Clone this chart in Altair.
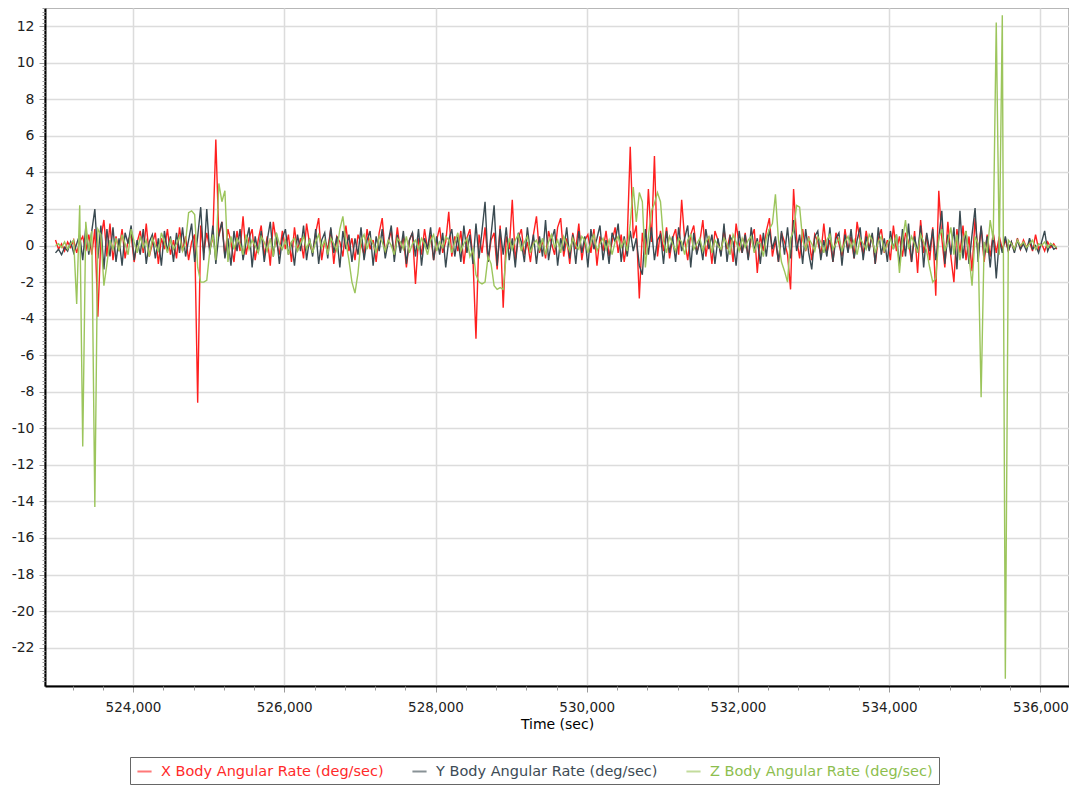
import altair as alt
import pandas as pd

START = 522975
STEP = 40

x_rate = [
    0.3, -0.2, 0.1, -0.3, 0.2, -0.1, 0.3, -0.4, 0.2, 0.5, -0.3, 0.6, -0.5, 0.9, -3.9, 0.4, 1.4, -0.6, 1.2, -0.8,
    0.5, -0.3, 0.9, -0.7, 0.3, 0.6, -0.9, 0.2, 0.8, -0.4, 1.2, -0.6, 0.1, 0.7, -1.0, 0.4, -0.2, 0.9, -0.5, 0.3,
    -0.7, 1.0, -0.3, 0.5, -0.8, 0.2, 0.6, -8.6, 1.1, -0.4, 0.7, -0.2, 0.4, 5.8, 0.5, 1.3, -0.6, 0.9, 0.2, -0.9,
    0.8, -0.3, 1.6, -0.5, 0.4, 0.9, -0.8, 0.3, 1.1, -0.6, 0.5, -1.1, 1.3, 0.2, -0.5, 0.8, -0.2, 0.6, -0.9, 1.0,
    -0.3, 0.4, -0.7, 1.2, 0.1, -0.4, 0.7, 1.5, -0.8, 0.3, -0.2, 0.9, -1.0, 0.5, 0.2, -0.6, 1.1, -0.3, 0.4, -0.8,
    0.6, 0.1, -0.5, 0.9, -0.2, 0.3, -0.9, 0.7, 1.5, -0.4, 0.2, 0.8, -0.6, 1.0, -0.3, 0.5, -1.2, 0.3, 0.7, -2.1,
    0.4, -0.5, 0.9, -0.2, 0.6, -0.8, 0.3, 1.0, -0.4, 0.2, 1.85, -0.6, 0.5, -0.3, 0.8, -1.0, 0.4, 0.9, -0.7, -5.1,
    0.6, -0.4, 1.0, -0.9, 0.3, 0.7, -1.3, 1.1, -3.4, 0.5, -0.2, 2.5, -0.8, 0.4, 0.9, -0.5, 0.2, -0.9, 0.6, 1.6,
    -0.4, 0.3, -0.7, 0.8, 0.1, -0.5, 1.0, 1.5, -0.6, 0.4, -1.0, 0.7, -0.2, 1.2, -0.8, 0.3, 0.6, -0.4, 0.9, -1.1,
    0.5, -0.3, 0.8, -0.6, 0.2, 1.0, -0.4, 0.6, -0.9, 0.3, 5.4, 0.4, 1.1, -2.9, 0.7, -0.5, 3.1, 0.2, 4.9, -0.6,
    0.8, -0.3, 1.0, -0.7, 0.4, 0.9, -0.5, 2.5, 0.3, -0.8, 0.6, 1.1, -0.4, 0.2, 1.4, -0.6, 0.5, -1.0, 0.8, 0.3,
    -0.5, 0.9, -0.2, 0.6, -0.9, 1.2, 0.1, -0.4, 0.7, -0.7, 0.4, 0.9, -1.5, 0.6, -0.3, 0.8, 1.5, -0.6, 0.3, -0.9,
    0.7, 0.2, -0.5, -2.4, 3.1, 0.4, -0.7, 0.9, -0.3, 0.5, -0.8, 0.6, 0.2, -0.5, 1.2, -0.4, 0.3, -0.9, 0.7, 0.1,
    -0.6, 0.9, -0.3, 0.5, -0.7, 1.3, 0.2, -0.5, 0.8, -0.2, 0.6, -1.0, 0.4, 0.9, -0.4, 0.3, -0.8, 1.1, -0.3, 0.5,
    -0.6, 0.7, 0.2, -0.9, 0.8, -1.5, 1.4, -0.4, 0.6, -0.8, 1.0, -2.75, 3.0, 0.4, -1.2, 1.3, -0.6, -2.0, 0.9, -0.4,
    1.1, -0.8, 0.5, -1.4, 1.5, -0.5, 1.0, -0.9, 0.6, -0.6, 0.7, -0.4, 0.5, -0.2, 0.3, -0.3, 0.2, -0.3, 0.4, -0.2,
    0.3, -0.1, 0.2, -0.3, 0.6, -0.2, 0.1, -0.3, 0.2, -0.1, 0.1, -0.2,
]

y_rate = [
    -0.4, -0.2, -0.5, -0.1, -0.3, 0.2, -0.4, 0.1, 0.6, -0.8, 1.0, -0.5, 0.8, 2.0, -0.7, 1.1, -1.3, 0.9, -0.6, 1.0,
    -0.9, 0.4, -1.1, 0.7, 0.1, 1.1, -0.8, 0.3, -0.5, 0.9, -1.0, 0.2, 0.6, -0.7, 0.4, -1.1, 0.8, -0.3, 0.5, -0.9,
    0.7, -0.4, 1.0, -0.6, 0.3, 1.2, -0.9, 0.5, 2.1, -0.8, 2.0, -0.5, 1.1, -1.0, 0.6, 1.3, -0.7, 0.4, -1.1, 0.8,
    -0.3, 0.9, -0.8, 0.2, 1.0, -1.2, 0.5, -0.4, 0.8, -0.9, 0.3, 1.3, -0.6, 0.7, -1.0, 0.4, 0.9, -0.5, 0.2, -1.1,
    0.6, -0.3, 1.1, -0.8, 0.4, -0.6, 0.9, -1.0, 0.3, 0.7, -0.7, 1.0, -0.4, 0.5, -1.2, 0.8, -0.2, 0.6, -0.9, 0.4,
    -0.5, 1.0, -0.8, 0.3, 0.8, -1.1, 0.5, -0.3, 0.9, -0.7, 0.2, 1.1, -0.9, 0.6, -0.4, 0.8, -1.0, 0.3, 0.7, -0.6,
    0.9, -1.1, 0.4, -0.2, 1.0, -0.8, 0.5, -0.5, 0.7, -1.2, 0.3, 0.9, -0.6, 0.5, -0.9, 1.1, -0.4, 0.6, -1.0, 1.2,
    -0.7, 0.8, 2.4, -0.9, 0.6, 2.2, -1.1, 0.9, -0.5, 1.0, -0.8, 0.4, -1.2, 0.7, 0.2, -0.9, 1.0, -0.4, 0.6, -1.0,
    0.5, -0.6, 1.4, -0.8, 0.3, 0.9, -1.1, 0.4, -0.3, 1.0, -0.7, 0.6, -1.0, 0.8, -0.4, 0.5, -1.2, 0.9, -0.2, 0.4,
    1.1, -0.8, 0.3, -1.0, 0.7, 0.2, 1.2, -0.9, 0.5, -0.6, 0.8, -0.3, 0.4, -1.1, -1.6, 0.9, -0.5, 1.0, -0.8, 0.3,
    0.6, -1.0, 0.8, -0.4, 0.5, -0.9, 1.0, -0.3, 0.4, 1.1, -1.2, 0.7, -0.5, 0.3, -0.8, 0.9, -0.2, 0.6, -1.0, 0.4,
    -0.6, 1.2, -0.9, 0.5, 0.2, -1.1, 0.8, -0.4, 0.6, -0.8, 1.0, -0.3, 0.4, -1.0, 0.7, -0.6, 0.9, -0.2, 0.5, -0.9,
    0.8, -0.5, 1.0, -0.7, 1.4, -0.3, 0.6, -1.0, 0.9, -0.4, -1.3, 0.5, 0.8, -0.8, 0.3, -0.6, 1.0, -0.9, 0.4, 0.7,
    -1.1, 0.6, -0.4, 0.9, -0.7, 0.3, 1.0, -0.8, 0.5, -0.3, 0.7, -1.0, 1.0, -0.5, 0.4, -0.9, 0.8, -0.2, 0.6, -1.1,
    0.9, -0.6, 1.2, -0.9, 0.5, -0.4, 1.1, -1.2, 0.7, -0.3, 0.9, -0.8, 0.4, 1.9, -1.0, 0.6, -0.5, 1.0, -1.3, 1.9,
    -0.7, 0.8, -1.0, 0.6, 2.05, -0.9, 1.1, -0.6, 0.5, -1.2, 0.7, -1.8, 0.3, -0.4, 0.5, -0.3, 0.2, -0.4, 0.3, -0.2,
    0.1, -0.3, 0.4, -0.2, 0.0, -0.4, 0.2, 0.8, -0.3, 0.1, -0.2, -0.1,
]

z_rate = [
    0.0, 0.1, -0.1, 0.2, -0.2, 0.1, 0.3, -3.2, 2.2, -11.0, 1.3, -0.3, 0.8, -14.3, 0.9, 0.6, -2.2, -1.0, 0.3, -0.2,
    0.4, -0.3, 0.6, 0.1, -0.5, 0.9, 0.2, -0.4, 0.5, -0.1, 0.3, -0.6, 0.4, 0.0, -0.3, 0.7, 0.2, -0.4, 0.3, -0.2,
    0.1, 0.5, -0.3, 0.2, 1.8, 1.9, 1.7, -1.2, -2.0, -2.0, -1.9, -0.3, 0.6, -0.8, 3.4, 2.4, 3.0, -0.9, 0.5, -0.2,
    0.4, 0.1, -0.5, 0.6, -0.2, 0.3, 0.0, -0.4, 0.5, 0.2, -0.3, 0.4, -0.6, 0.7, 0.1, -0.2, 0.3, -0.5, 0.2, 0.4,
    -0.3, 0.1, 0.5, -0.2, 0.3, -0.4, 0.2, 0.6, -0.1, 0.3, -0.5, 0.4, 0.1, -0.3, 0.9, 1.6, 0.2, -0.8, -2.0, -2.6,
    -1.5, 0.3, 0.6, -0.2, 0.4, 0.1, -0.4, 0.5, 0.2, -0.3, 0.3, 0.0, -0.5, 0.4, 0.2, -0.2, 0.5, -0.4, 0.1, 0.3,
    -0.2, 0.4, 0.1, -0.5, 0.3, 0.6, -0.3, 0.2, -0.1, 0.5, 0.3, -0.4, 0.2, 0.7, -0.3, 0.1, 0.4, -0.6, -0.2, -1.6,
    -2.0, -2.1, -2.0, -0.6, -1.0, -2.2, -2.4, -2.3, -2.4, -0.5, 0.4, -0.2, 0.3, 0.6, -0.3, 0.2, 0.5, -0.4, 0.1, 0.3,
    -0.2, 0.4, -0.5, 0.2, 0.6, -0.1, 0.3, -0.4, 0.5, 0.1, -0.3, 0.4, 0.0, -0.2, 0.5, 0.3, -0.4, 0.2, 0.6, -0.3,
    0.1, 0.4, -0.2, 0.3, -0.5, 0.2, 0.5, -0.1, 0.3, -0.3, 1.2, 3.2, 1.3, 2.9, 2.4, -1.2, 0.5, 1.9, 2.3, 2.9,
    2.4, 0.3, -0.4, 0.5, 0.1, -0.3, 0.4, 0.2, -0.5, 0.3, 0.6, -0.2, 0.1, 0.4, -0.3, 0.2, 0.5, -0.4, 0.3, 0.0,
    -0.2, 0.4, 0.1, -0.5, 0.6, 0.2, -0.3, 0.4, -0.1, 0.3, 0.5, -0.4, 0.2, 0.1, -0.6, 0.4, 0.9, 1.2, 2.8, 0.3,
    -0.9, -1.4, -2.0, 0.4, 0.8, 2.2, 2.1, 0.3, -0.2, 0.4, 0.1, -0.3, 0.5, 0.2, -0.4, 0.3, 0.6, -0.2, 0.1, 0.4,
    -0.3, 0.2, 0.5, -0.1, 0.3, -0.5, 0.4, 0.1, -0.2, 0.6, 0.3, -0.4, 0.2, 0.5, -0.3, 0.1, 0.4, -0.2, 0.6, -1.5,
    0.3, 1.4, -0.2, 0.5, 0.1, -0.4, 0.6, 0.2, -0.3, -1.2, -2.0, -1.8, 0.4, 0.9, -0.3, 0.2, 1.0, -0.5, 0.6, -0.8,
    0.3, 0.8, -0.6, -2.2, 0.5, 0.1, -8.3, 0.2, -0.4, 1.4, 0.3, 12.2, -0.5, 12.6, -23.7, 0.3, 0.1, -0.2, 0.3, 0.0,
    0.2, -0.1, 0.1, 0.3, -0.2, 0.1, 0.0, 0.2, -0.1, 0.1, 0.0, -0.1,
]

series_names = [
    "X Body Angular Rate (deg/sec)",
    "Y Body Angular Rate (deg/sec)",
    "Z Body Angular Rate (deg/sec)",
]
series_colors = ["#FF1F1F", "#3A4A51", "#9CC55C"]
label_colors = ["#FF2A2A", "#3D4B55", "#8DBE4E"]

x_ticks = [524000, 526000, 528000, 530000, 532000, 534000, 536000]
x_minor = [v for v in range(523200, 536001, 400) if v % 2000 != 0]
y_ticks = list(range(-22, 13, 2))
y_minor = [round(-24 + 0.2 * k, 1) for k in range(0, 186) if (k % 10) != 0]

frames = []
for name, vals in zip(series_names, [x_rate, y_rate, z_rate]):
    frames.append(pd.DataFrame({
        "t": [START + STEP * i for i in range(len(vals))],
        "v": vals,
        "series": name,
        "order": list(range(len(vals))),
    }))
df = pd.concat(frames, ignore_index=True)

x_scale = alt.Scale(domain=[522836, 536377], nice=False, zero=False)
y_scale = alt.Scale(domain=[-24.1, 13.0], nice=False, zero=False)

color_expr = (
    f"datum.value == '{series_names[0]}' ? '{label_colors[0]}' : "
    f"datum.value == '{series_names[1]}' ? '{label_colors[1]}' : '{label_colors[2]}'"
)

lines = alt.Chart(df).mark_line(strokeWidth=1.4).encode(
    x=alt.X("t:Q", scale=x_scale, axis=alt.Axis(
        values=x_ticks, format=",d", title="Time (sec)", orient="bottom",
        labelFontSize=13.5, labelColor="#222222", labelPadding=8,
        tickSize=6, tickColor="#9a9a9a", domainColor="#000000", domainWidth=2,
        gridColor="#dcdcdc", gridWidth=1.5,
        titleFontSize=14, titleFontWeight="normal", titleColor="#000000", titlePadding=4,
    )),
    y=alt.Y("v:Q", scale=y_scale, axis=alt.Axis(
        values=y_ticks, title=None, orient="left",
        labelExpr="'' + datum.value",
        labelFontSize=14, labelColor="#222222", labelPadding=5,
        tickSize=6, tickColor="#9a9a9a", domainColor="#000000", domainWidth=2,
        gridColor="#dcdcdc", gridWidth=1.5,
    )),
    color=alt.Color("series:N", scale=alt.Scale(domain=series_names, range=series_colors),
                    legend=alt.Legend(
                        orient="none", legendX=85, legendY=749, direction="horizontal",
                        columns=3, title=None, labelFontSize=14.5, labelLimit=400,
                        labelColor=alt.ExprRef(expr=color_expr),
                        symbolType="stroke", symbolSize=200, symbolStrokeWidth=2,
                        symbolOpacity=0.6, labelOffset=8, columnPadding=24,
                        padding=6, strokeColor="#666666", fillColor="#ffffff",
                    )),
    order="order:Q",
)

minor = alt.Chart(df).mark_line(opacity=0).encode(
    x=alt.X("t:Q", scale=x_scale, axis=alt.Axis(
        values=x_minor, labels=False, title=None, orient="bottom", grid=False,
        domain=False, tickSize=4, tickColor="#9a9a9a",
    )),
    y=alt.Y("v:Q", scale=y_scale, axis=alt.Axis(
        values=y_minor, labels=False, title=None, orient="left", grid=False,
        domain=False, tickSize=3, tickColor="#9a9a9a",
    )),
    detail="series:N",
)

chart = alt.layer(lines, minor).resolve_axis(x="independent", y="independent").properties(
    width=1024,
    height=678,
    autosize=alt.AutoSizeParams(type="none"),
    padding={"left": 37, "top": 0, "right": 0, "bottom": 100},
).configure(
    font="DejaVu Sans",
).configure_view(
    stroke="#a0a0a0",
    strokeWidth=1.5,
)

chart.save("out.html", embed_options={"renderer": "svg", "actions": False})
